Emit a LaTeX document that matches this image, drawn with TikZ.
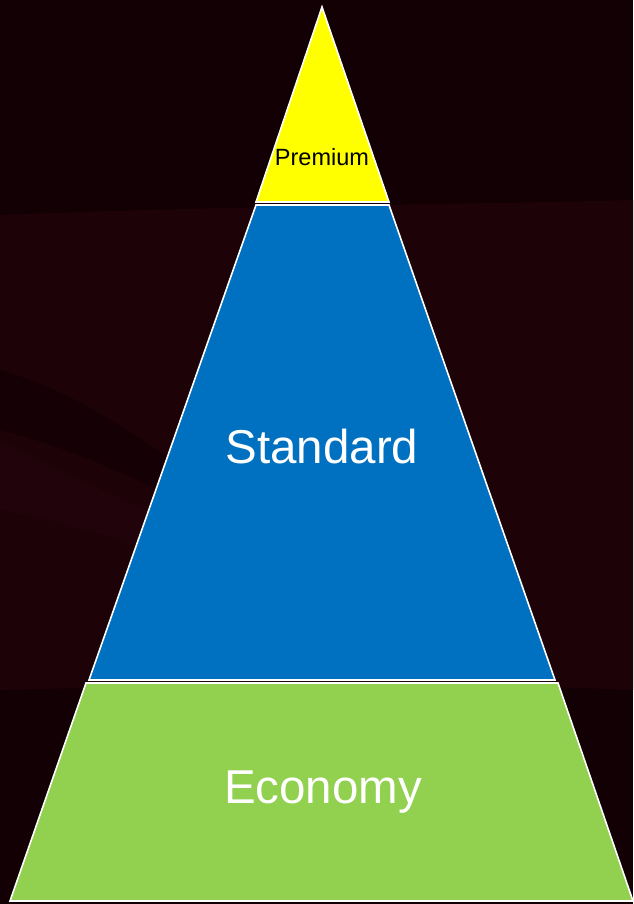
\documentclass[tikz,border=0pt]{standalone}
\usepackage{fontspec}
\setmainfont{Liberation Sans}
\definecolor{bgdark}{HTML}{130004}
\definecolor{bgband}{HTML}{1D0208}
\definecolor{bgswoosh}{HTML}{24050E}
\definecolor{tierpremium}{HTML}{FFFF00}
\definecolor{tierstandard}{HTML}{0070C0}
\definecolor{tiereconomy}{HTML}{92D050}
\tikzset{
  tier/.style={draw=white, line width=1.6pt, line join=miter},
  tierlabel/.style={align=center, inner sep=0pt}
}
\begin{document}
\begin{tikzpicture}[x=1pt, y=-1pt]
  \fill [bgdark] (0, 0) rectangle (633, 904);
  \useasboundingbox (0, 0) rectangle (633, 904);

  \fill [bgband] (0, 215) .. controls (250, 205) and (450, 205) .. (633, 200) -- (633, 690) .. controls (400, 680) and (200, 685) .. (0, 690) -- cycle;
  \fill [bgswoosh, opacity=0.6] (0, 440) .. controls (60, 470) and (120, 500) .. (180, 525) -- (180, 560) .. controls (120, 540) and (60, 520) .. (0, 510) -- cycle;
  \fill [bgdark, opacity=0.7] (0, 370) .. controls (70, 390) and (130, 430) .. (200, 480) -- (200, 510) .. controls (120, 470) and (60, 445) .. (0, 430) -- cycle;

  \draw [tier, fill=tierpremium] (322, 7) -- (389, 202) -- (256, 202) -- cycle;
  \draw [tier, fill=tierstandard] (256, 205) -- (389, 205) -- (555, 680) -- (89, 680) -- cycle;
  \draw [tier, fill=tiereconomy] (86, 683) -- (558, 683) -- (633, 901) -- (10, 901) -- cycle;

  \node [tierlabel, text=black, font=\fontsize{23.5}{28}\selectfont] (premium) at (322, 157) {Premium};
  \node [tierlabel, text=white, font=\fontsize{47.5}{56}\selectfont] (standard) at (322, 447) {Standard};
  \node [tierlabel, text=white, font=\fontsize{47.5}{56}\selectfont] (economy) at (323, 792) {Economy};
\end{tikzpicture}
\end{document}
